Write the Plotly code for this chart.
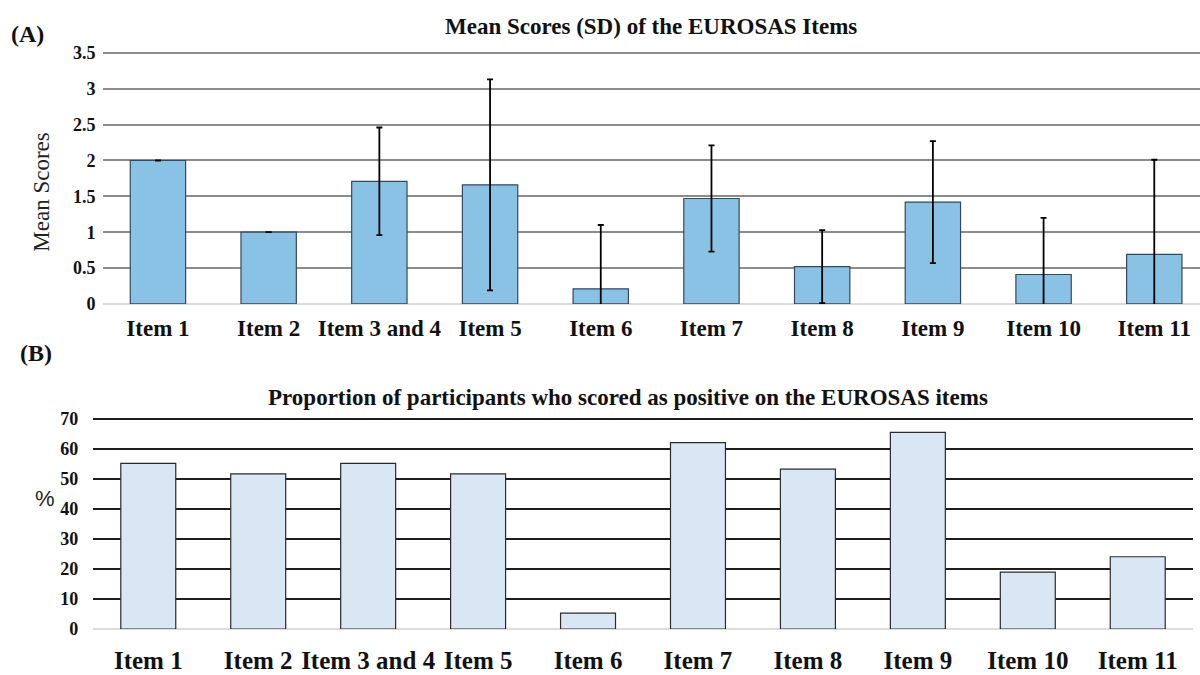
import plotly.graph_objects as go

W, H = 1200, 675

# Item labels shared by both panels
items = ["Item 1", "Item 2", "Item 3 and 4", "Item 5", "Item 6",
         "Item 7", "Item 8", "Item 9", "Item 10", "Item 11"]

# Panel A: mean scores and standard deviations
mean_scores = [2.00, 1.00, 1.71, 1.66, 0.21, 1.47, 0.52, 1.42, 0.41, 0.69]
sd_scores = [0.00, 0.00, 0.75, 1.47, 0.89, 0.74, 0.51, 0.85, 0.79, 1.32]

# Panel B: percentage of participants scoring positive
pct_positive = [55.2, 51.7, 55.2, 51.7, 5.3, 62.1, 53.3, 65.5, 19.0, 24.1]

SERIF = "Liberation Serif, Times New Roman, serif"
SANS = "Liberation Sans, Arial, sans-serif"


def px_x(v):
    return v / W


def px_y(v):
    return 1 - v / H


fig = go.Figure()

fig.add_trace(go.Bar(
    x=items, y=mean_scores, xaxis="x", yaxis="y", width=0.5,
    marker=dict(color="#8ac2e6", line=dict(color="#34495c", width=1.2)),
    error_y=dict(type="data", array=sd_scores, visible=True,
                 color="#000000", thickness=1.8, width=3),
    showlegend=False,
))

fig.add_trace(go.Bar(
    x=items, y=pct_positive, xaxis="x2", yaxis="y2", width=0.5,
    marker=dict(color="#d9e7f4", line=dict(color="#2b2b2b", width=1.2)),
    showlegend=False,
))

tick_font = dict(family=SERIF, size=18, color="#111111", weight="bold")
cat_font_a = dict(family=SERIF, size=23, color="#111111", weight="bold")
cat_font_b = dict(family=SERIF, size=25, color="#111111", weight="bold")

# Panel geometry (pixels): value 0 and top gridline positions
A_ZERO, A_TOP, A_MAX, A_HEAD = 305.7, 49.0, 3.5, 3.56
B_ZERO, B_TOP, B_MAX, B_HEAD = 638.3, 423.3, 70.0, 71.5
a_top_px = A_ZERO - (A_ZERO - A_TOP) * A_HEAD / A_MAX
b_top_px = B_ZERO - (B_ZERO - B_TOP) * B_HEAD / B_MAX

fig.update_layout(
    width=W, height=H,
    margin=dict(l=0, r=0, t=0, b=0),
    paper_bgcolor="white", plot_bgcolor="white",
    bargap=0.5,
    xaxis=dict(
        domain=[px_x(102.6), 1.0], anchor="y",
        range=[-0.5, 9.413], showgrid=False, zeroline=False,
        showline=False, ticks="", tickfont=cat_font_a,
        ticklabelstandoff=8,
    ),
    yaxis=dict(
        domain=[px_y(A_ZERO), px_y(a_top_px)], anchor="x",
        range=[0, A_HEAD], dtick=0.5,
        showgrid=True, gridcolor="#8c8c8c", gridwidth=1.5,
        zeroline=True, zerolinecolor="#dcdcdc", zerolinewidth=2,
        showline=False, ticks="", tickfont=tick_font,
        ticklabelstandoff=6,
    ),
    xaxis2=dict(
        domain=[px_x(93.3), px_x(1192.7)], anchor="y2",
        range=[-0.5, 9.5], showgrid=False, zeroline=False,
        showline=False, ticks="", tickfont=cat_font_b,
        ticklabelstandoff=14,
    ),
    yaxis2=dict(
        domain=[px_y(B_ZERO), px_y(b_top_px)], anchor="x2",
        range=[0, B_HEAD], dtick=10,
        showgrid=True, gridcolor="#1e1e1e", gridwidth=1.5,
        zeroline=True, zerolinecolor="#dcdcdc", zerolinewidth=2,
        showline=False, ticks="", tickfont=tick_font,
        ticklabelstandoff=14,
    ),
)

annotations = [
    dict(text="<b>(A)</b>", x=px_x(27), y=px_y(30),
         font=dict(family=SERIF, size=24, color="#111111")),
    dict(text="<b>Mean Scores (SD) of the EUROSAS Items</b>",
         x=px_x(651), y=px_y(22),
         font=dict(family=SERIF, size=23, color="#111111")),
    dict(text="Mean Scores", x=px_x(42), y=px_y(192), textangle=-90,
         font=dict(family=SERIF, size=23, color="#222222")),
    dict(text="<b>(B)</b>", x=px_x(36), y=px_y(356),
         font=dict(family=SERIF, size=24, color="#111111")),
    dict(text="<b>Proportion of participants who scored as positive on the EUROSAS items</b>",
         x=px_x(628), y=px_y(401),
         font=dict(family=SERIF, size=23, color="#111111")),
    dict(text="%", x=px_x(45), y=px_y(505),
         font=dict(family=SANS, size=22, color="#222222")),
]
for a in annotations:
    a.update(xref="paper", yref="paper", showarrow=False,
             xanchor="center", yanchor="middle")
fig.update_layout(annotations=annotations)

fig.write_html("out.html")
